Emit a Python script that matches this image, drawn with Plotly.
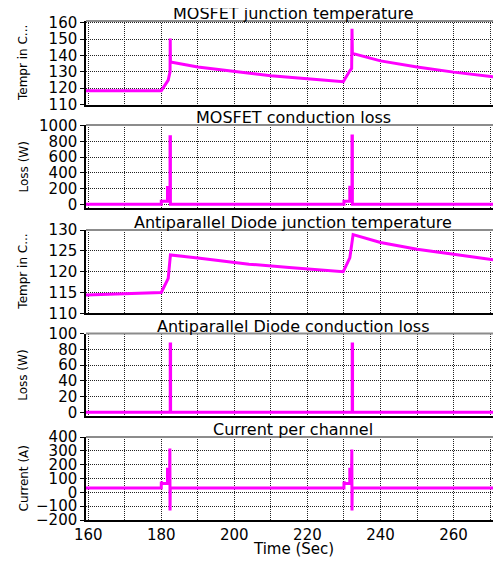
import plotly.graph_objects as go
from plotly.subplots import make_subplots

# ---------------- data ----------------
titles = ["MOSFET junction temperature", "MOSFET conduction loss",
          "Antiparallel Diode junction temperature", "Antiparallel Diode conduction loss",
          "Current per channel"]
ytitles = ["Tempr in C...", "Loss (W)", "Tempr in C...", "Loss (W)", "Current (A)"]

t_mos_temp = [159.4, 180.0, 181.9, 182.4, 182.45, 182.5, 190, 200, 210, 220, 229.8,
              231.6, 232.1, 232.2, 232.3, 240, 250, 260, 272.7]
v_mos_temp = [118.3, 118.3, 124.9, 130.0, 150.5, 136.0, 133.0, 130.5, 127.6, 125.8, 123.9,
              130.6, 132.0, 156.5, 141.3, 136.7, 133.0, 129.8, 126.5]

t_mos_loss = [159.4, 180.0, 180.0, 181.7, 181.7, 182.4, 182.4, 182.5, 182.5,
              230.0, 230.0, 231.6, 231.6, 232.2, 232.2, 232.3, 232.3, 272.7]
v_mos_loss = [0, 0, 38, 38, 213, 213, 860, 860, 0,
              0, 38, 38, 218, 218, 870, 870, 0, 0]

t_dio_temp = [159.4, 180.0, 181.9, 182.5, 190, 204, 215, 229.8, 231.6, 232.5, 240, 250, 260, 272.7]
v_dio_temp = [114.4, 115.0, 118.4, 124.0, 123.3, 121.8, 121.0, 120.0, 123.3, 128.9, 127.0, 125.4, 124.2, 122.6]

t_dio_loss = [159.4, 182.45, 182.45, 182.55, 182.55, 232.25, 232.25, 232.35, 232.35, 272.7]
v_dio_loss = [0, 0, 86.7, 86.7, 0, 0, 86.7, 86.7, 0, 0]

t_current = [159.4, 180.0, 180.0, 180.3, 181.7, 181.7, 182.3, 182.35, 182.4, 182.45,
             230.0, 230.0, 230.3, 231.6, 231.6, 232.1, 232.15, 232.2, 232.25, 272.7]
v_current = [32, 32, 76, 64, 64, 166, 166, 317, -132, 32,
             32, 76, 64, 64, 166, 166, 310, -132, 32, 32]

series = [(t_mos_temp, v_mos_temp), (t_mos_loss, v_mos_loss), (t_dio_temp, v_dio_temp),
          (t_dio_loss, v_dio_loss), (t_current, v_current)]

x_range = [159.4, 272.7]
x_tickvals = list(range(160, 271, 10))
x_ticktext = [str(v) if v % 20 == 0 else "" for v in x_tickvals]

y_ranges = [[109.6, 161.2], [-47, 1009], [110, 130], [-4.7, 100], [-200, 400]]
y_dticks = [10, 200, 5, 20, 100]
y_tick0 = [110, 0, 110, 0, -200]

# ---------------- layout ----------------
OFF = 8  # page body margin
W, H = 501 - OFF, 561 - OFF
ML, MR = 86 - OFF, 1
MT, MB = 21 - OFF, H - (520 - OFF)
ph = H - MT - MB
panel_px = [(21, 105), (125, 208), (230, 313.3), (333.6, 416), (437, 520)]

def frac(ypx_screen):
    return (H - MB - (ypx_screen - OFF)) / ph

FONT = "DejaVu Sans"
fig = make_subplots(rows=5, cols=1, shared_xaxes=True)

for i, (t, v) in enumerate(series):
    fig.add_trace(go.Scatter(x=t, y=v, mode="lines",
                             line=dict(color="#ff00ff", width=3),
                             showlegend=False, hoverinfo="skip"), row=i + 1, col=1)

grid = dict(showgrid=True, gridcolor="#222", griddash="1px,1px", gridwidth=1, zeroline=False)

for i in range(5):
    top, bot = panel_px[i]
    n = "" if i == 0 else str(i + 1)
    fig.layout["yaxis" + n].update(
        domain=[frac(bot), min(1.0, frac(top))], range=y_ranges[i], automargin=False,
        tick0=y_tick0[i], dtick=y_dticks[i], ticks="outside", ticklen=4,
        tickcolor="black", showline=True, linecolor="black", linewidth=1.5,
        tickfont=dict(family=FONT, size=15, color="black"), **grid)
    fig.layout["xaxis" + n].update(
        range=x_range, tickvals=x_tickvals, ticktext=x_ticktext, automargin=False,
        showticklabels=(i == 4), showline=True, linecolor="black", linewidth=1.5,
        tickfont=dict(family=FONT, size=15, color="black"), **grid)
    fig.add_shape(type="line", xref="paper", x0=0, x1=1,
                  yref=("y" + n + " domain"), y0=1, y1=1,
                  line=dict(color="#8c8c8c", width=2))
    fig.add_annotation(text=titles[i], xref="paper", x=0.5, yref=("y" + n + " domain"), y=1,
                       yanchor="bottom", yshift=-4, showarrow=False,
                       font=dict(family=FONT, size=16, color="black"))
    fig.add_annotation(text=ytitles[i], xref="paper", x=(23 - 86) / (W - ML - MR),
                       yref=("y" + n + " domain"), y=0.5, textangle=-90,
                       xanchor="center", yanchor="middle", showarrow=False,
                       font=dict(family=FONT, size=12, color="black"))

fig.add_annotation(text="Time (Sec)", xref="paper", x=0.5, yref="paper",
                   y=frac(549), yanchor="middle", showarrow=False,
                   font=dict(family=FONT, size=15, color="black"))

fig.update_layout(width=W, height=H, margin=dict(l=ML, r=MR, t=MT, b=MB),
                  paper_bgcolor="white", plot_bgcolor="white")

fig.write_html("out.html")
